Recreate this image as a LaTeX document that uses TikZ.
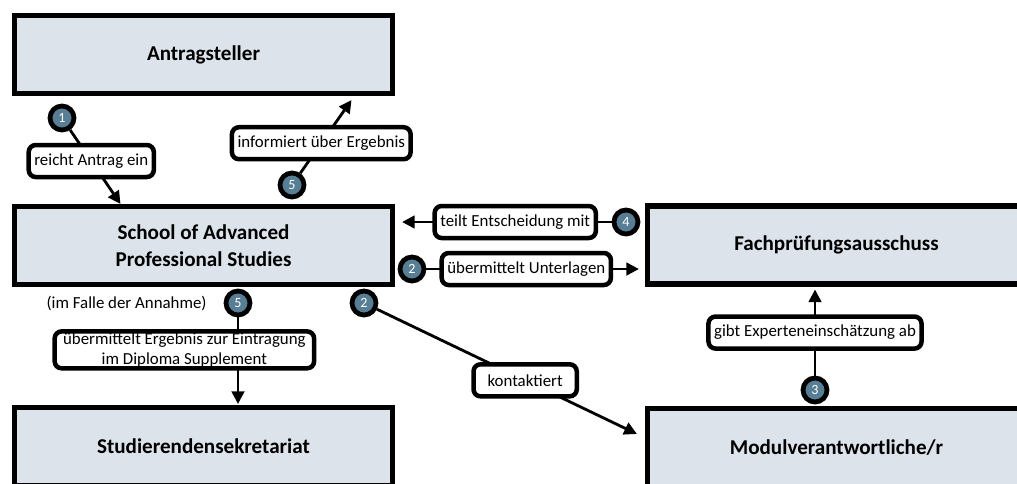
\documentclass[tikz,border=0pt]{standalone}
\usepackage{fontspec}
\setmainfont{Carlito}
\usetikzlibrary{positioning, arrows.meta, calc}
\definecolor{boxfill}{RGB}{221,227,235}
\definecolor{badgefill}{RGB}{88,126,150}

\begin{document}
\begin{tikzpicture}[x=0.025cm, y=-0.025cm,
	box/.style={draw, line width=3.6pt, fill=boxfill, minimum width=9.45cm, minimum height=1.95cm, font=\bfseries\fontsize{15}{19}\selectfont, align=center},
	badge/.style={circle, draw, line width=3.4pt, fill=badgefill, text=white, minimum size=0.6cm, inner sep=0pt, font=\fontsize{10}{12}\selectfont},
	lbl/.style={draw, line width=3.2pt, rounded corners=5pt, fill=white, inner xsep=4pt, inner ysep=1pt, minimum height=0.8cm, font=\fontsize{12}{14}\selectfont, align=center},
	flow/.style={line width=2pt, -{Triangle[length=9pt,width=9pt]}}]
					\useasboundingbox (0,0) rectangle (1017,483);
					\clip (0,0) rectangle (1017,483);
					\node[box] (ant) at (203.5,54.5) {Antragsteller};
					\node[box] (saps) at (203.5,245.5) {School of Advanced\\Professional Studies};
					\node[box] (stud) at (203.5,446.5) {Studierendensekretariat};
					\node[box] (fach) at (836.5,245) {Fachprüfungsausschuss};
					\node[box] (modul) at (836.5,447.5) {Modulverantwortliche/r};
					\node[badge] (b1) at (62,118) {1};
					\node[badge] (b5a) at (292,185) {5};
					\node[badge] (b4) at (626,222) {4};
					\node[badge] (b2a) at (412,269) {2};
					\node[badge] (b2b) at (364,303) {2};
					\node[badge] (b5b) at (238,303) {5};
					\node[badge] (b3) at (815,390) {3};
					\node[left=0.3cm of b5b, font=\fontsize{12}{14}\selectfont] (annahme) {(im Falle der Annahme)};
					\coordinate (t1) at ($(saps.north)+(-83,0)$);
					\coordinate (t5a) at ($(ant.south)+(148,4)$);
					\coordinate (t4) at ($(saps.east |- b4)+(7,0)$);
					\coordinate (t2a) at ($(fach.west |- b2a)+(-6,0)$);
					\coordinate (t2b) at ($(modul.north west)+(-8,28)$);
					\coordinate (t3) at ($(fach.south -| b3)+(0,3)$);
					\coordinate (t5b) at ($(stud.north -| b5b)+(0,-1)$);
					\draw
					(b1) edge[flow] node[lbl, pos=0.42] {reicht Antrag ein} (t1)
					(b5a) edge[flow] node[lbl, pos=0.41] {informiert über Ergebnis} (t5a)
					(b4) edge[flow] node[lbl, pos=0.46] {teilt Entscheidung mit} (t4)
					(b2a) edge[flow] node[lbl, pos=0.47] {übermittelt Unterlagen} (t2a)
					(b2b) edge[flow] node[lbl, pos=0.57, minimum width=2.58cm] {kontaktiert} (t2b)
					(b3) edge[flow] node[lbl, pos=0.5] {gibt Experteneinschätzung ab} (t3)
					(b5b) edge[flow] node[lbl, pos=0.375, xshift=-1.34cm, inner xsep=6pt] (diplo) {übermittelt Ergebnis zur Eintragung\\im Diploma Supplement} (t5b);
				\end{tikzpicture}
\end{document}
